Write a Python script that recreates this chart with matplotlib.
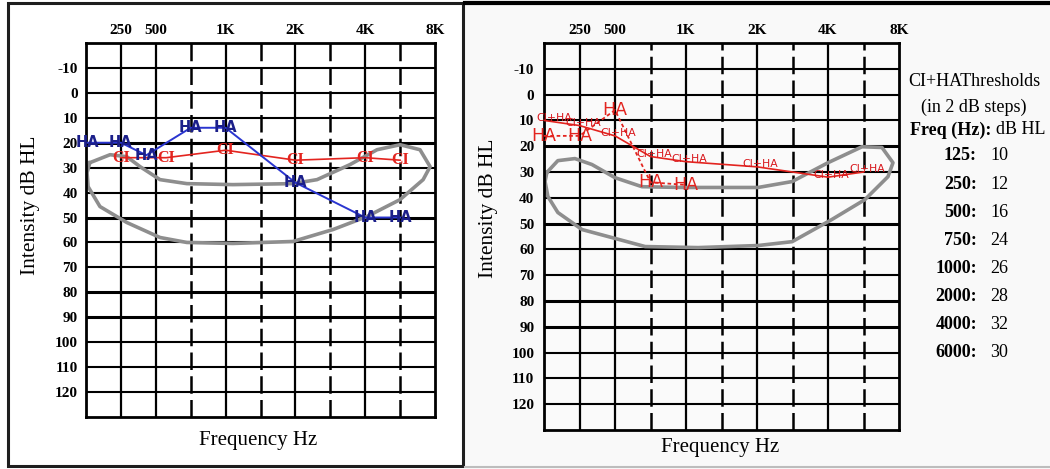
import matplotlib
matplotlib.use("Agg")
import matplotlib.pyplot as plt
from matplotlib.patches import Rectangle
from matplotlib.lines import Line2D

plt.rcParams["font.family"] = ["Liberation Serif", "DejaVu Serif"]

W, H = 1050, 469

# audiogram frame: evenly spaced frequency columns
FREQS = [125, 250, 500, 750, 1000, 1500, 2000, 3000, 4000, 6000, 8000]
TOP_LABELS = {250: "250", 500: "500", 1000: "1K", 2000: "2K", 4000: "4K", 8000: "8K"}
DASHED = [750, 1500, 3000, 6000]
DB_TICKS = list(range(-10, 121, 10))

# left chart: separate HA and CI aided thresholds
ha_freq = [125, 250, 500, 750, 1000, 2000, 4000, 6000]
ha_db = [20, 20, 25, 14, 14, 36, 50, 50]
ci_freq = [250, 500, 1000, 2000, 4000, 6000]
ci_db = [26, 26, 23, 27, 26, 27]

# right chart: combined CI+HA and HA alone
cha_freq = [125, 250, 500, 750, 1000, 2000, 4000, 6000]
cha_db = [10, 12, 16, 24, 26, 28, 32, 30]
ha2_freq = [125, 250, 500, 750, 1000]
ha2_db = [16, 16, 6, 34, 35]

# speech banana outline (column position, dB HL)
banana_l_pos = [0.11, 0.69, 1.17, 1.55, 2.12, 2.89, 4.21, 5.93, 6.62, 7.56, 8.34, 9.0,
                9.57, 9.86, 9.66, 9.0, 8.05, 7.08, 5.93, 4.21, 2.89, 2.12, 1.17, 0.4,
                0.06, 0.03, 0.11]
banana_l_db = [28, 24.8, 25.6, 29.6, 34.8, 36.4, 36.8, 36.4, 34.8, 28.8, 22.8, 20.8,
               22.8, 29.6, 34.8, 42.8, 49.6, 54.8, 59.6, 60.4, 60, 58, 52, 45.6,
               37.6, 32, 28]
banana_r_pos = [0.08, 0.39, 0.87, 1.35, 2.0, 2.76, 3.89, 6.03, 6.99, 8.0, 8.96, 9.52,
                9.83, 9.69, 9.04, 8.11, 6.99, 6.03, 4.34, 2.85, 1.8, 1.07, 0.39, 0.11,
                0.03, 0.08]
banana_r_db = [30.2, 25.6, 24.8, 27.1, 32.2, 35.7, 36, 36, 33.7, 26.4, 20.2, 20.5,
               26.4, 31.8, 40.7, 48.4, 57, 58.5, 59.3, 58.9, 55, 52.3, 45.7, 39.5,
               33.7, 30.2]

RED = "#e3241f"
NAVY = "#1b1f8a"
BLUE = "#2a35d0"
GREY = "#8e8e8e"


def pos(freqs):
    return [FREQS.index(f) for f in freqs]


def px_box(x0, y0, x1, y1):
    return [x0 / W, 1 - y1 / H, (x1 - x0) / W, (y1 - y0) / H]


def draw_grid(ax, face, ypad):
    ax.set_facecolor(face)
    ax.set_xlim(0, 10)
    ax.set_ylim(130, -20)
    for i, f in enumerate(FREQS[1:-1], 1):
        if f in DASHED:
            ax.axvline(i, color="k", lw=1.8, ls=(0, (7, 2.5)), zorder=1)
        else:
            ax.axvline(i, color="k", lw=1.6, zorder=1)
    for d in DB_TICKS:
        ax.axhline(d, color="k", lw=2.2 if d in (20, 50, 80, 90) else 1.5, zorder=1)
    for s in ax.spines.values():
        s.set_linewidth(2)
    ax.xaxis.tick_top()
    ax.set_xticks([FREQS.index(f) for f in TOP_LABELS])
    ax.set_xticklabels(list(TOP_LABELS.values()), fontweight="bold", fontsize=11)
    ax.set_yticks(DB_TICKS)
    ax.set_yticklabels([str(d) for d in DB_TICKS], fontweight="bold", fontsize=11)
    ax.tick_params(length=0)
    ax.tick_params(axis="x", pad=4)
    ax.tick_params(axis="y", pad=ypad)


fig = plt.figure(figsize=(W / 100, H / 100), dpi=100)

# panel backgrounds / frames
fig.patches.append(Rectangle((465 / W, 0), (W - 465) / W, 1, transform=fig.transFigure,
                             facecolor="#f9f9f9", edgecolor="none", zorder=-10))
fig.patches.append(Rectangle((8 / W, 1 - 466 / H), 455 / W, 463 / H, transform=fig.transFigure,
                             facecolor="white", edgecolor="#1e1e1e", lw=2.2, zorder=-9))
fig.lines.append(Line2D([465 / W, 1], [1 - 3 / H] * 2, transform=fig.transFigure,
                        color="k", lw=3))
fig.lines.append(Line2D([465 / W, 1], [1 - 467 / H] * 2, transform=fig.transFigure,
                        color="#bdbdbd", lw=1.5))

# ---- left audiogram
ax1 = fig.add_axes(px_box(86, 43, 435, 417))
draw_grid(ax1, "white", 6)
ax1.plot(banana_l_pos, banana_l_db, color=GREY, lw=2.6, solid_joinstyle="round", zorder=2)
# small nudges so the labels do not sit on top of each other
nudge_l = {("HA", 125): 0.05, ("HA", 500): -0.27, ("CI", 500): 0.3}
hx = [p + nudge_l.get(("HA", f), 0) for p, f in zip(pos(ha_freq), ha_freq)]
cx = [p + nudge_l.get(("CI", f), 0) for p, f in zip(pos(ci_freq), ci_freq)]
ax1.plot(cx, ci_db, color=RED, lw=1.2, zorder=3)
ax1.plot(hx, ha_db, color=BLUE, lw=1.4, zorder=3)
for x, y in zip(cx, ci_db):
    ax1.text(x, y, "CI", color=RED, fontsize=11.5, fontweight="bold",
             ha="center", va="center", zorder=5)
for x, y in zip(hx, ha_db):
    ax1.text(x, y, "HA", color=NAVY, fontsize=10.5, fontweight="bold", family="DejaVu Sans",
             ha="center", va="center", zorder=5)

# ---- right audiogram
ax2 = fig.add_axes(px_box(544, 43, 899, 430))
draw_grid(ax2, "#fafafa", 7)
ax2.plot(banana_r_pos, banana_r_db, color=GREY, lw=2.6, solid_joinstyle="round", zorder=2)
ax2.plot(pos(ha2_freq), ha2_db, color=RED, lw=1.3, ls=(0, (2, 1.5)), zorder=3)
ax2.plot(pos(cha_freq), cha_db, color=RED, lw=1.2, zorder=3)
nudge_r = {125: 0.28}
for f, x, y in zip(cha_freq, pos(cha_freq), cha_db):
    ax2.text(x + nudge_r.get(f, 0.1), y - 1, "CI+HA", color="#d8161b", fontsize=7.8,
             family="DejaVu Sans", ha="center", va="center", zorder=5)
for x, y in zip(pos(ha2_freq), ha2_db):
    ax2.text(x, y, "HA", color=RED, fontsize=12.5, family="DejaVu Sans",
             ha="center", va="center", zorder=5)

# axis titles
fig.text(30 / W, 1 - 205 / H, "Intensity dB HL", rotation=90, ha="center", va="center", fontsize=15.5)
fig.text(488 / W, 1 - 208 / H, "Intensity dB HL", rotation=90, ha="center", va="center", fontsize=15.5)
fig.text(258 / W, 1 - 440 / H, "Frequency Hz", ha="center", va="center", fontsize=15)
fig.text(720 / W, 1 - 447 / H, "Frequency Hz", ha="center", va="center", fontsize=15)

# threshold table on the right
fs = 13
fig.text(974 / W, 1 - 82 / H, "CI+HAThresholds", ha="center", va="center", fontsize=fs)
fig.text(974 / W, 1 - 107 / H, "(in 2 dB steps)", ha="center", va="center", fontsize=fs)
fig.text(991 / W, 1 - 130 / H, "Freq (Hz):", ha="right", va="center", fontsize=fs, fontweight="bold")
fig.text(996 / W, 1 - 130 / H, "dB HL", ha="left", va="center", fontsize=fs)
for i, (f, v) in enumerate(zip(cha_freq, cha_db)):
    y = 1 - (156 + i * 28.1) / H
    fig.text(977 / W, y, f"{f}:", ha="right", va="center", fontsize=fs, fontweight="bold")
    fig.text(990 / W, y, f"{v}", ha="left", va="center", fontsize=fs)

fig.savefig("out.png", dpi=100)
